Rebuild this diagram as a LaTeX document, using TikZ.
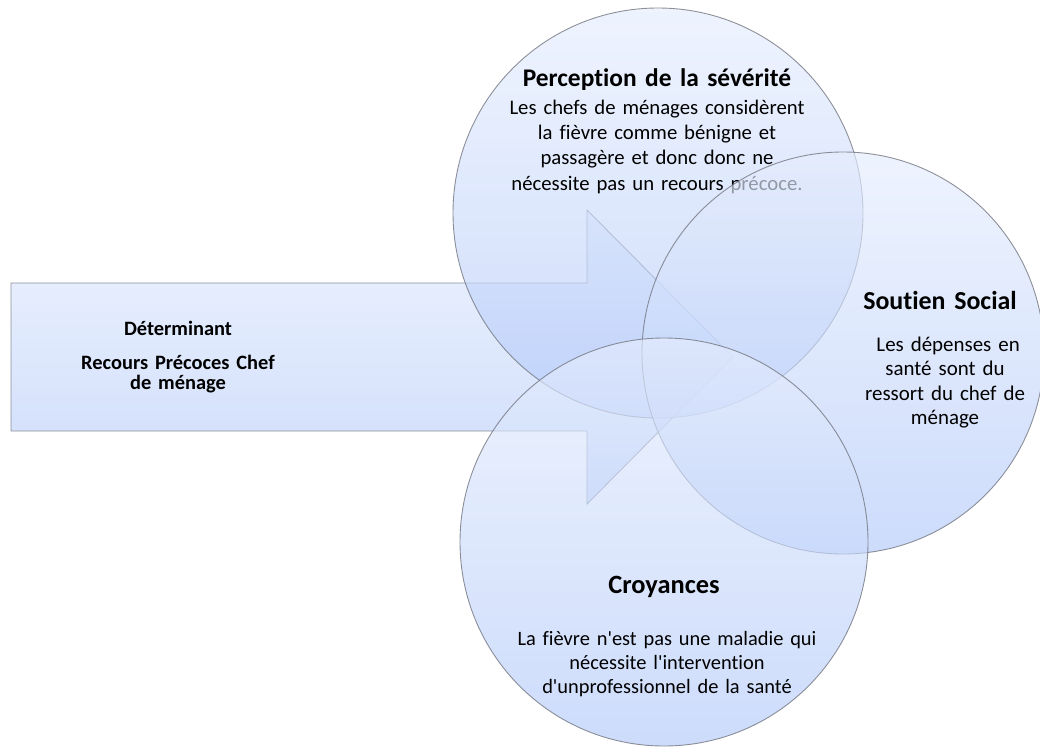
\documentclass[tikz,border=0pt]{standalone}
\usepackage{fontspec}
\setmainfont{Carlito}[Ligatures=NoCommon]
\definecolor{fillTop}{RGB}{229,237,253}
\definecolor{fillBot}{RGB}{178,201,250}
\definecolor{edgeGray}{RGB}{115,118,128}
\tikzset{
  shapeblue/.style={top color=fillTop, bottom color=fillBot, fill opacity=0.65,
    draw=edgeGray, draw opacity=0.8, line width=0.9bp},
  ring/.style={shapeblue, circle, inner sep=0pt, minimum size=#1},
  headtxt/.style 2 args={font=\fontsize{#1}{#2}\selectfont\bfseries, text=black,
    inner sep=0pt, anchor=base, align=center, text width=340bp},
  bodytxt/.style 2 args={font=\fontsize{#1}{#2}\selectfont, text=black,
    inner sep=0pt, anchor=base, align=center, text width=340bp},
}
\begin{document}
\begin{tikzpicture}[x=1bp,y=-1bp]
\useasboundingbox (0,0) rectangle (1040,747);
% arrow
\path[shapeblue] (11,283) -- (587,283) -- (587,210) -- (733,357) -- (587,504)
  -- (587,431) -- (11,431) -- cycle;
\node[headtxt={20.5}{21}] (det) at (178,335) {Déterminant};
\node[headtxt={20.5}{20.5}] (rec) at (178,369)
  {Recours Précoces Chef\\de ménage};
% top circle
\node[ring=410bp] (sev) at (658,213) {};
\node[headtxt={25.5}{26}] (sevT) at (657,87) {Perception de la sévérité};
\node[bodytxt={20.8}{25.5}] (sevB) at (657,114)
  {Les chefs de ménages considèrent\\la fièvre comme bénigne et\\passagère et donc donc ne\\nécessite pas un recours précoce.};
% right circle
\node[ring=402bp] (sou) at (843,353) {};
\node[headtxt={26}{26}, text width=200bp] (souT) at (940,309) {Soutien Social};
\node[bodytxt={21}{24.7}, text width=200bp] (souB) at (945,351)
  {\hspace*{0.3em}Les dépenses en\\santé sont du\\ressort du chef de\\ménage};
% bottom circle
\node[ring=408bp] (cro) at (664,542) {};
\node[headtxt={26.5}{26.5}] (croT) at (664,593) {Croyances};
\node[bodytxt={20.5}{24.5}] (croB) at (667,645)
  {La fièvre n\textquotesingle est pas une maladie qui\\nécessite l\textquotesingle intervention\\d\textquotesingle unprofessionnel de la santé};
\end{tikzpicture}
\end{document}
